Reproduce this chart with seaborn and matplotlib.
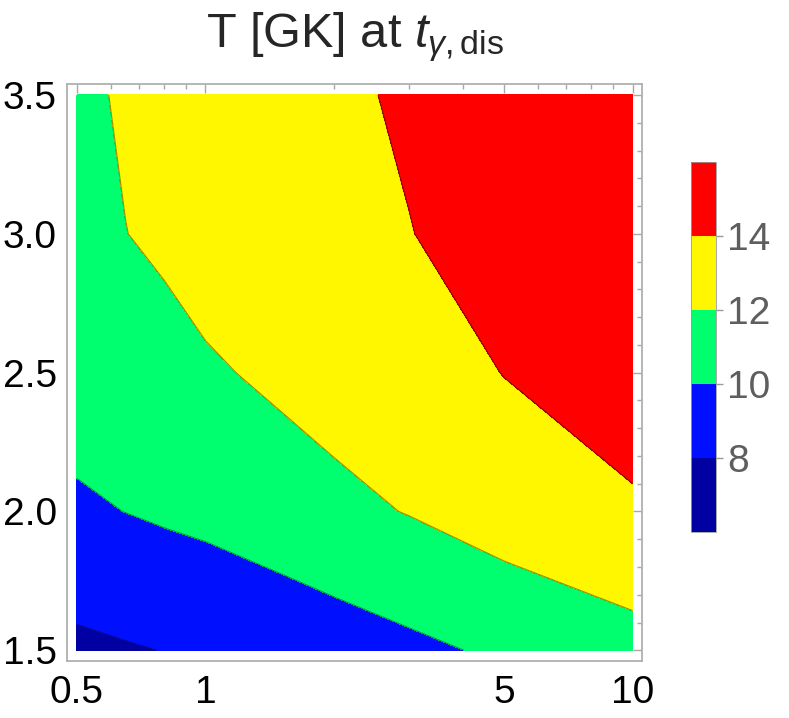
import matplotlib
matplotlib.use("Agg")
import numpy as np
import matplotlib.pyplot as plt
import seaborn as sns
from matplotlib.ticker import FixedLocator, NullFormatter

# grid of the runs: x (log axis) and y rows
x_vals = [0.5, 0.65, 0.8, 1.0, 1.5, 2.0, 3.0, 5.0, 10.0]
y_vals = [1.5, 2.0, 2.5, 3.0, 3.5]

# T [GK], one list per y row
t_y15 = [7.6, 7.85, 8.04, 8.2, 8.4, 9.0, 9.6, 10.38, 11.28]
t_y20 = [9.75, 10.02, 10.26, 10.5, 11.3, 11.6, 12.08, 12.9, 13.8]
t_y25 = [10.8, 11.1, 11.4, 11.85, 12.27, 12.63, 13.3, 14.04, 14.8]
t_y30 = [11.5, 11.98, 12.3, 12.5, 13.0, 13.5, 13.95, 15.05, 15.7]
t_y35 = [11.7, 12.18, 12.6, 12.9, 13.3, 13.7, 14.26, 15.3, 15.9]

levels = [6, 8, 10, 12, 14, 16]
cbar_ticks = [8, 10, 12, 14]
x_major = [0.5, 1, 5, 10]
x_major_labels = ["0.5", "1", "5", "10"]
x_minor = [0.6, 0.7, 0.8, 0.9, 2, 3, 4, 6, 7, 8, 9]
y_major = [1.5, 2.0, 2.5, 3.0, 3.5]

sns.set_style("white")
plt.rcParams["font.family"] = ["Liberation Sans", "DejaVu Sans"]
plt.rcParams["mathtext.fontset"] = "custom"
plt.rcParams["mathtext.rm"] = "Liberation Sans"
plt.rcParams["mathtext.it"] = "Liberation Sans:italic"

band_colors = sns.color_palette(["#0000a3", "#0010ff", "#00ff6e", "#fff700", "#ff0000"])

Z = np.array([t_y15, t_y20, t_y25, t_y30, t_y35])

fig = plt.figure(figsize=(7.89, 7.18), dpi=100)
ax = fig.add_axes([0.0845, 0.0794, 0.7298, 0.8032])

cf = ax.contourf(x_vals, y_vals, Z, levels=levels, colors=band_colors)
ax.contour(x_vals, y_vals, Z, levels=cbar_ticks, colors="black", linewidths=0.9, alpha=0.4)

ax.set_xscale("log")
ax.set_xlim(0.4733, 10.55)
ax.set_ylim(1.4615, 3.5385)

ax.xaxis.set_major_locator(FixedLocator(x_major))
ax.set_xticklabels(x_major_labels)
ax.xaxis.set_minor_locator(FixedLocator(x_minor))
ax.xaxis.set_minor_formatter(NullFormatter())
ax.set_yticks(y_major)
ax.set_yticklabels([f"{v:.1f}" for v in y_major])
ax.yaxis.set_minor_locator(FixedLocator(np.arange(1.6, 3.45, 0.1)))

ax.tick_params(which="both", direction="in", top=True, right=True,
               color="#a8a8a8", labelcolor="black", labelsize=28, width=1)
ax.tick_params(which="major", length=6.5)
ax.tick_params(which="minor", length=3.5)
ax.tick_params(axis="x", pad=10)
ax.tick_params(axis="y", pad=7)
for sp in ax.spines.values():
    sp.set_color("#b0b0b0")
    sp.set_linewidth(1.3)

ax.set_title(r"T [GK] at $t_{\gamma,\mathrm{dis}}$", fontsize=35, pad=27)

cax = fig.add_axes([0.8758, 0.2595, 0.0317, 0.5153])
cb = fig.colorbar(cf, cax=cax, ticks=cbar_ticks)
cb.outline.set_edgecolor("#9a9a9a")
cb.outline.set_linewidth(0.6)
cax.tick_params(direction="out", length=5, width=1, color="#9a9a9a",
                labelcolor="#5e5e5e", labelsize=28, pad=3)

fig.savefig("out.png", dpi=100)
